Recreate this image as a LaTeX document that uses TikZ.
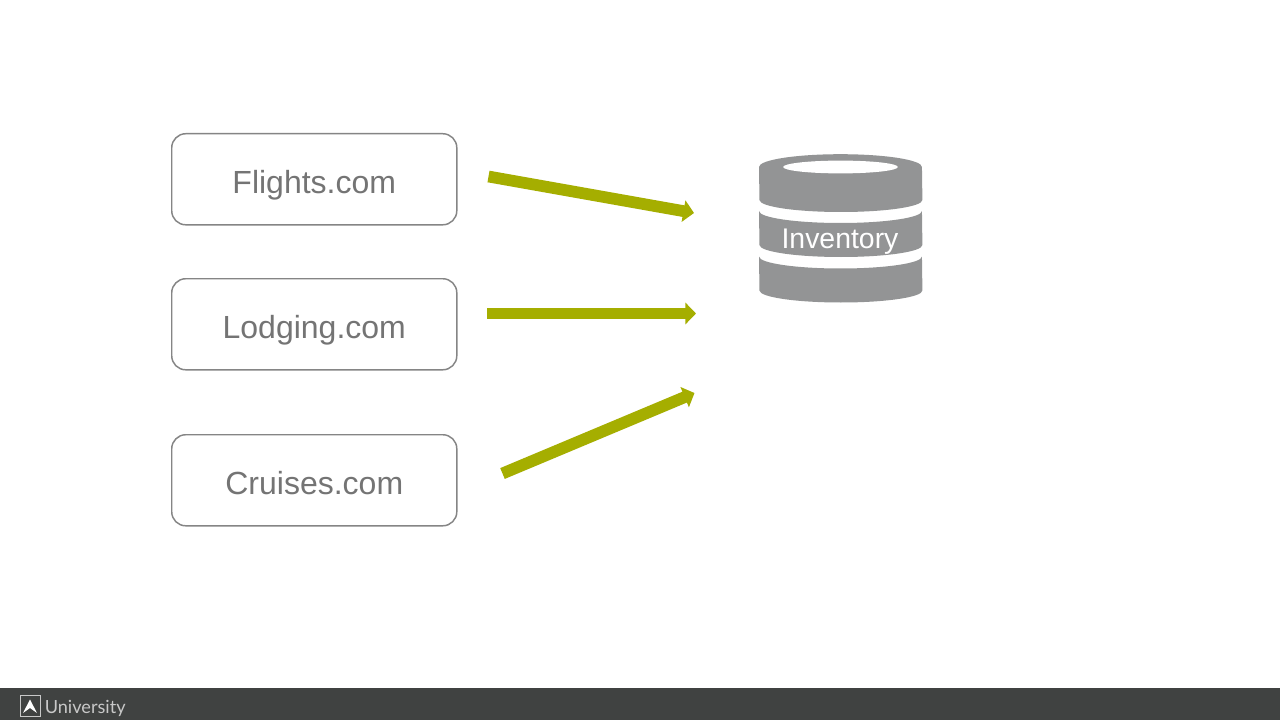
\documentclass[tikz,border=0pt]{standalone}
\usepackage{fontspec}
\setmainfont{Liberation Sans}
\newfontfamily\logofont{Lato}
\usetikzlibrary{arrows.meta}
\definecolor{boxline}{HTML}{858585}
\definecolor{boxtext}{HTML}{747474}
\definecolor{olive}{HTML}{A5AE00}
\definecolor{dbgray}{HTML}{939495}
\definecolor{footer}{HTML}{404241}
\definecolor{logoc}{HTML}{C8C8C8}
\tikzset{
  sitebox/.style={draw=boxline,line width=1.1pt,rounded corners=10.5pt,fill=white,minimum width=213.8pt,minimum height=68.3pt,inner sep=0pt,text height=44.6pt,text depth=23.7pt,text=boxtext,font=\fontsize{24}{28}\selectfont,anchor=north west},
  flow/.style={draw=olive,line width=8.8pt,-{Triangle[length=8pt,width=16pt]}},
  dbpart/.style={fill=dbgray,draw=none},
}
\begin{document}
\begin{tikzpicture}[x=0.75pt,y=-0.75pt]
\useasboundingbox (0,0) rectangle (1280,720);
\fill[white] (0,0) rectangle (1280,720);
% footer
\fill[footer] (0,688) rectangle (1280,720);
\draw[logoc,line width=0.7pt] (20.5,695.5) rectangle (40,716);
\fill[white] (30,699.5) -- (37,713) -- (30,708) -- (23,713) -- cycle;
\node[anchor=base west,inner sep=0pt,text=logoc,font=\logofont\fontsize{13.6}{17}\selectfont] (uni) at (44.5,713) {University};
% boxes
\node[sitebox] (flights) at (171,133) {Flights.com};
\node[sitebox] (lodging) at (171,278) {Lodging.com};
\node[sitebox] (cruises) at (171,434) {Cruises.com};
% database
\path[dbpart] (759,167) arc[start angle=180,end angle=0,x radius=61.1pt,y radius=9.6pt] -- (922.4,200) arc[start angle=0,end angle=-180,x radius=61.1pt,y radius=9pt] -- cycle;
\fill[white] (840.5,167) ellipse[x radius=43pt,y radius=4.8pt];
\path[dbpart] (759,211) arc[start angle=180,end angle=360,x radius=61.1pt,y radius=9pt] -- (922.4,245) arc[start angle=0,end angle=-180,x radius=61.1pt,y radius=9pt] -- cycle;
\path[dbpart] (759,256.5) arc[start angle=180,end angle=360,x radius=61.1pt,y radius=9pt] -- (922.4,290.5) arc[start angle=0,end angle=-180,x radius=61.1pt,y radius=9pt] -- cycle;
\node[anchor=base,inner sep=0pt,text=white,font=\fontsize{21.3}{25}\selectfont] (inv) at (840,248) {Inventory};
% connectors
\coordinate (a1) at (488.5,176.5);
\coordinate (b1) at (694,213);
\coordinate (a2) at (487,313.5);
\coordinate (b2) at (696,313.5);
\coordinate (a3) at (502.5,473.5);
\coordinate (b3) at (694.5,393);
\draw[flow] (a1) -- (b1);
\draw[flow] (a2) -- (b2);
\draw[flow] (a3) -- (b3);
\end{tikzpicture}
\end{document}
